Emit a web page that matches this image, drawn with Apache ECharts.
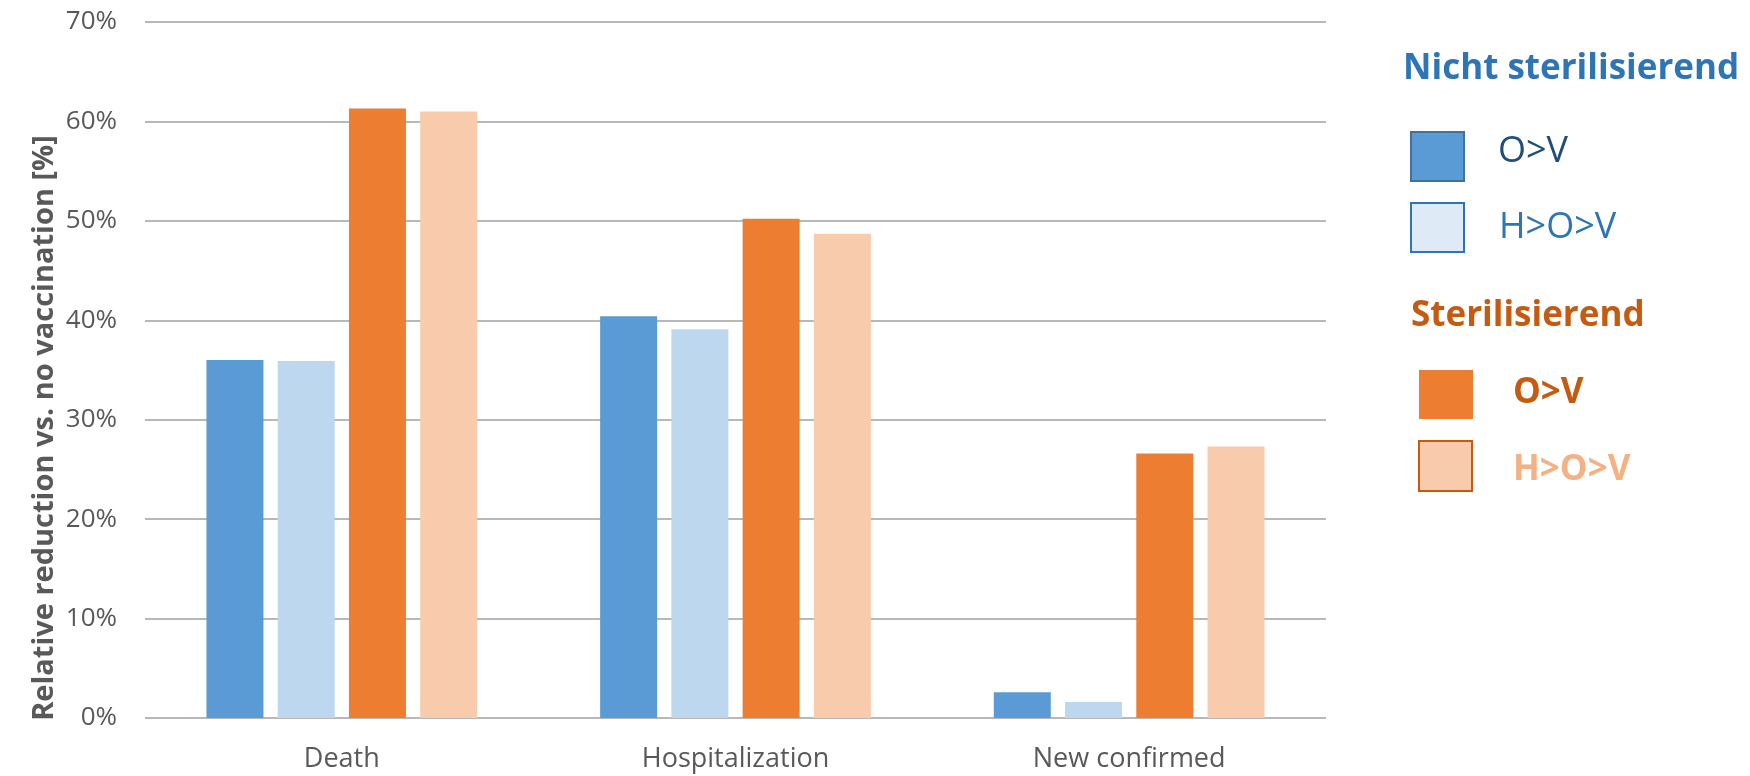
<!DOCTYPE html>
<html>
<head>
<meta charset="utf-8">
<title>Relative reduction vs. no vaccination</title>
<script src="https://cdn.jsdelivr.net/npm/echarts@6/dist/echarts.min.js"></script>
<style>
  html, body { margin: 0; padding: 0; background: #fff; }
  #chart { width: 1750px; height: 776px; }
</style>
</head>
<body>
<div id="chart"></div>
<script>
// Outcome categories on the x axis
const categories = ['Death', 'Hospitalization', 'New confirmed'];

// Relative reduction (%) per outcome
const nichtOV  = [36.0, 40.4, 2.6];
const nichtHOV = [35.9, 39.1, 1.6];
const sterOV   = [61.3, 50.2, 26.6];
const sterHOV  = [61.0, 48.7, 27.3];

// Y axis tick values (%)
const yTicks = [0, 10, 20, 30, 40, 50, 60, 70];

const groupTitles = ['Nicht sterilisierend', 'Sterilisierend'];
const seriesNames = ['O>V', 'H>O>V', 'O>V', 'H>O>V'];

const FONT = "'Open Sans', 'Noto Sans', sans-serif";
const GREY = '#595959';

// Fill, legend swatch border and legend text look for each series
const looks = [
  { fill: '#5B9BD5', border: '#41719C', text: '#1F4E79', bold: false },
  { fill: '#BDD7EE', border: '#2E75B6', text: '#2E75B6', bold: false, swatch: '#DEEBF7' },
  { fill: '#ED7D31', border: '#ED7D31', text: '#C55A11', bold: true },
  { fill: '#F8CBAD', border: '#C55A11', text: '#F4B183', bold: true }
];
const groupColors = ['#2E75B6', '#C55A11'];
const values = [nichtOV, nichtHOV, sterOV, sterHOV];

const chart = echarts.init(document.getElementById('chart'), null, { renderer: 'canvas' });

// Legend drawn at the right: group headers, swatches and labels
const legendLayout = [
  { sx: 1410, sy: 131, w: 55, h: 51, tx: 1498, ty: 152 },
  { sx: 1410, sy: 202, w: 55, h: 51, tx: 1499, ty: 228 },
  { sx: 1419, sy: 370, w: 54, h: 49, tx: 1513, ty: 393 },
  { sx: 1418, sy: 440, w: 55, h: 52, tx: 1513, ty: 470 }
];
const headerLayout = [ { x: 1403, y: 76 }, { x: 1411, y: 323 } ];

const graphics = [];
groupTitles.forEach((t, i) => {
  graphics.push({
    type: 'text', left: headerLayout[i].x, top: headerLayout[i].y - 24,
    style: { text: t, font: 'bold 35px ' + FONT, fill: groupColors[i] }
  });
});
seriesNames.forEach((n, i) => {
  const L = legendLayout[i], s = looks[i];
  graphics.push({
    type: 'rect',
    shape: { x: L.sx + 1, y: L.sy + 1, width: L.w - 2, height: L.h - 2 },
    style: { fill: s.swatch || s.fill, stroke: s.border, lineWidth: 2 }
  });
  graphics.push({
    type: 'text', x: L.tx, y: L.ty,
    style: {
      text: n, fill: s.text,
      font: (s.bold ? 'bold 35px ' : '36px ') + FONT,
      textAlign: 'left', textVerticalAlign: 'middle'
    }
  });
});
// Y axis title
graphics.push({
  type: 'text', x: 45, y: 428, rotation: Math.PI / 2,
  style: {
    text: 'Relative reduction vs. no vaccination [%]',
    font: 'bold 29px ' + FONT, fill: GREY,
    textAlign: 'center', textVerticalAlign: 'middle'
  }
});

const option = {
  backgroundColor: '#ffffff',
  animation: false,
  grid: { left: 145, right: 424, top: 22, bottom: 58, containLabel: false },
  xAxis: {
    type: 'category',
    data: categories,
    axisLine: { show: false },
    axisTick: { show: false },
    axisLabel: { color: GREY, fontSize: 27, fontFamily: FONT, margin: 28 }
  },
  yAxis: {
    type: 'value',
    min: yTicks[0],
    max: yTicks[yTicks.length - 1],
    interval: 10,
    axisLine: { show: false },
    axisTick: { show: false },
    axisLabel: { color: GREY, fontSize: 26, fontFamily: FONT, margin: 28, formatter: v => v + '%' },
    splitLine: { lineStyle: { color: '#a0a0a0', width: 1.6 } }
  },
  series: values.map((vals, i) => ({
    type: 'bar',
    name: seriesNames[i] + (i < 2 ? ' (nicht sterilisierend)' : ' (sterilisierend)'),
    data: vals,
    barWidth: 57,
    barGap: '25%',
    itemStyle: { color: looks[i].fill }
  })),
  graphic: graphics
};

chart.setOption(option);
</script>
</body>
</html>
